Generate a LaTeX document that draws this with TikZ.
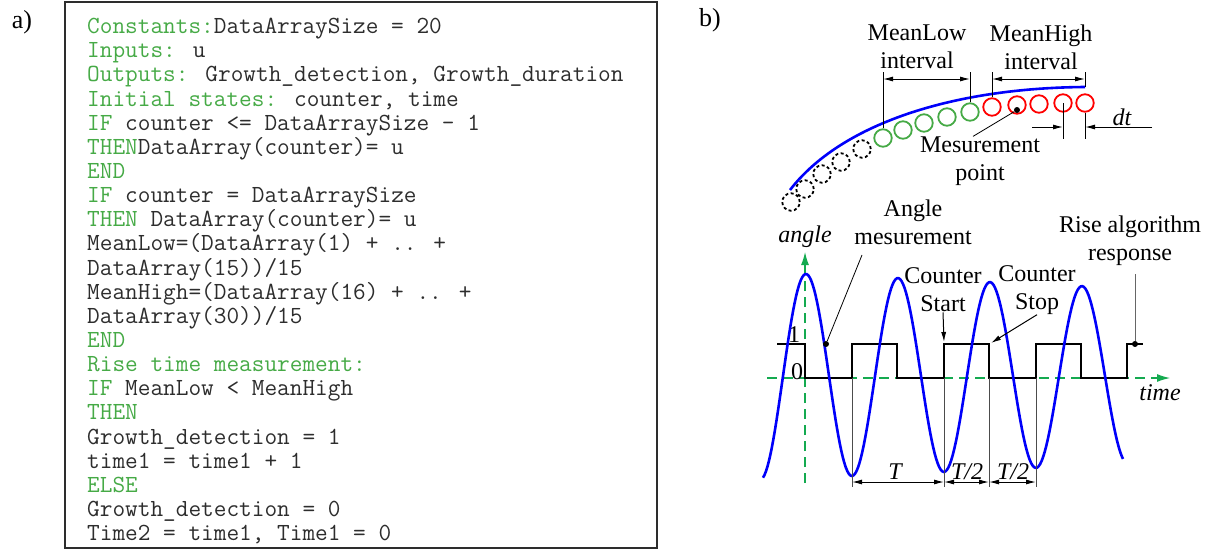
\documentclass[tikz,border=0pt]{standalone}
\usepackage{fontspec}
\setmainfont{Liberation Serif}
\usetikzlibrary{arrows.meta}
\definecolor{codegreen}{RGB}{70,170,70}
\definecolor{codegray}{RGB}{45,45,45}
\definecolor{axisgreen}{RGB}{20,170,80}
\definecolor{sigblue}{RGB}{0,0,250}

\begin{document}
\begin{tikzpicture}[x=1pt, y=-1pt,
  lbl/.style={font=\fontsize{24}{28}\selectfont, align=center, inner sep=0pt},
  sig/.style={sigblue, line width=2.6pt},
  sq/.style={black, line width=2.6pt},
  thinl/.style={line width=1pt},
  dimline/.style={line width=1pt, black!70},
  dimarr/.style={line width=1pt, {Latex[length=10pt,width=5pt]}-{Latex[length=10pt,width=5pt]}},
  onearr/.style={line width=1pt, -{Latex[length=10pt,width=5pt]}},
  axis/.style={axisgreen, line width=1.2pt, dash pattern=on 10pt off 6pt, -{Latex[length=13pt,width=8pt]}},
  pt/.style={circle, fill, inner sep=0pt, minimum size=6pt},
  meas/.style={circle, line width=1.8pt, inner sep=0pt, minimum size=17.5pt}]

  \useasboundingbox (0,0) rectangle (1210,549);

  % a) algorithm
  \node[lbl, font=\fontsize{26}{28}\selectfont] (la) at (22,22) {a)};
  \draw[codegray, line width=1.5pt] (65,2) rectangle (657,548);
  \node[anchor=north west, inner sep=0pt, align=left, text=codegray,
        font=\ttfamily\fontsize{24.6}{24.15}\selectfont] (code) at (87,18) {%
    \textcolor{codegreen}{Constants:}DataArraySize = 20\\
    \textcolor{codegreen}{Inputs:} u\\
    \textcolor{codegreen}{Outputs:} Growth\_detection, Growth\_duration\\
    \textcolor{codegreen}{Initial states:} counter, time\\
    \textcolor{codegreen}{IF} counter <= DataArraySize - 1\\
    \textcolor{codegreen}{THEN}DataArray(counter)= u\\
    \textcolor{codegreen}{END}\\
    \textcolor{codegreen}{IF} counter = DataArraySize\\
    \textcolor{codegreen}{THEN} DataArray(counter)= u\\
    MeanLow=(DataArray(1) + .. +\\
    DataArray(15))/15\\
    MeanHigh=(DataArray(16) + .. +\\
    DataArray(30))/15\\
    \textcolor{codegreen}{END}\\
    \textcolor{codegreen}{Rise time measurement:}\\
    \textcolor{codegreen}{IF} MeanLow < MeanHigh\\
    \textcolor{codegreen}{THEN}\\
    Growth\_detection = 1\\
    time1 = time1 + 1\\
    \textcolor{codegreen}{ELSE}\\
    Growth\_detection = 0\\
    Time2 = time1, Time1 = 0};

  % b) top: samples on the curve
  \node[lbl, font=\fontsize{26}{28}\selectfont] (lb) at (710,20) {b)};
  \draw[sig] (790,190) .. controls (840,125) and (950,88) .. (1085,87);
  \foreach \px/\py in {791/202, 805/189, 822/174, 841/162, 862/149}
    \node[meas, draw=black, dash pattern=on 3pt off 2.5pt] at (\px,\py) {};
  \foreach \i/\px/\py in {1/883/138, 2/903/130, 3/924/123, 4/947/117, 5/970/112}
    \node[meas, draw=codegreen] (g\i) at (\px,\py) {};
  \foreach \i/\px/\py in {1/992/107, 2/1017/105, 3/1039/104, 4/1063/103, 5/1085/103}
    \node[meas, draw=red] (r\i) at (\px,\py) {};

  % intervals
  \coordinate (lowA) at (883,72);
  \coordinate (lowB) at (970,72);
  \coordinate (highA) at (992,72);
  \coordinate (highB) at (1085,72);
  \draw[thinl] (g1.north) -- (lowA);
  \draw[thinl] (g5.north) -- (lowB);
  \draw[thinl] (r1.north) -- (highA);
  \draw[thinl] (1085,87) -- (highB);
  \draw[dimarr] ([yshift=-7pt]lowA) -- ([yshift=-7pt]lowB);
  \draw[dimarr] ([yshift=-7pt]highA) -- ([yshift=-7pt]highB);
  \node[lbl] (meanlow) at (917,47) {MeanLow\\interval};
  \node[lbl] (meanhigh) at (1041,47) {MeanHigh\\interval};

  % dt
  \coordinate (dtA) at (1063,139);
  \coordinate (dtB) at (1085,139);
  \coordinate (dtL) at (1032,127);
  \coordinate (dtR) at (1152,127);
  \draw[thinl] (r4.center) -- (dtA);
  \draw[thinl] (r5.south) -- (dtB);
  \draw[onearr] (dtL) -- (dtL -| dtA);
  \draw[onearr] (dtR) -- (dtR -| dtB);
  \node[lbl, font=\fontsize{24}{28}\selectfont\itshape] (dt) at (1122,117) {dt};

  \node[pt] (mpt) at (1017,110) {};
  \node[lbl] (mlabel) at (980,161) {Mesurement\\point};
  \draw[line width=0.8pt] (mpt) -- ([xshift=-7pt]mlabel.north);

  % b) bottom: angle and counter signal
  \draw[axis] (805,483) -- (805,252);
  \draw[axis] (767,378) -- (1170,378);
  \node[lbl, font=\fontsize{24}{28}\selectfont\itshape] (angle) at (805,237) {angle};
  \node[lbl, font=\fontsize{24}{28}\selectfont\itshape] (time) at (1160,393) {time};
  \node[lbl] (one) at (794,335) {1};
  \node[lbl] (zero) at (797,372) {0};

  \draw[sq] (777,344) -| (805,378) -| (852,344) -| (897,378) -| (944,344)
            -| (989,378) -| (1036,344) -| (1081,378) -| (1127,344) -- (1143,344);
  % 周期 92, 振幅逐渐减小
  \draw[sig] plot[domain=763:1123, samples=240]
    (\x, {376 - (102 - 0.044*(\x - 806))*cos(3.913*(\x - 806))});

  \node[lbl] (anglem) at (913,222) {Angle\\mesurement};
  \node[pt] (amdot) at (826,344) {};
  \coordinate (amtop) at (862,255);
  \draw[line width=0.8pt] (amtop) -- (amdot);

  \node[lbl] (cstart) at (943,290) {Counter\\Start};
  \draw[onearr] (cstart.south) -- (944,342);
  \node[lbl] (cstop) at (1037,290) {Counter\\Stop};
  \draw[onearr] (cstop.south) -- (991,343);

  \node[lbl] (rise) at (1130,241) {Rise algorithm\\response};
  \node[pt] (risedot) at (1135,344) {};
  \draw[line width=1pt, black!60] (rise.south -| risedot) ++(0,8) -- (risedot);

  % periods
  \foreach \px in {852, 944, 989, 1036}
    \draw[dimline] (\px,378) -- (\px,487);
  \draw[dimarr] (852,482) -- (944,482);
  \draw[dimarr] (944,482) -- (989,482);
  \draw[dimarr] (989,482) -- (1036,482);
  \node[lbl, font=\fontsize{24}{28}\selectfont\itshape] (tfull) at (895,472) {T};
  \node[lbl, font=\fontsize{24}{28}\selectfont\itshape] (thalfA) at (967,472) {T/2};
  \node[lbl, font=\fontsize{24}{28}\selectfont\itshape] (thalfB) at (1013,472) {T/2};
\end{tikzpicture}
\end{document}
